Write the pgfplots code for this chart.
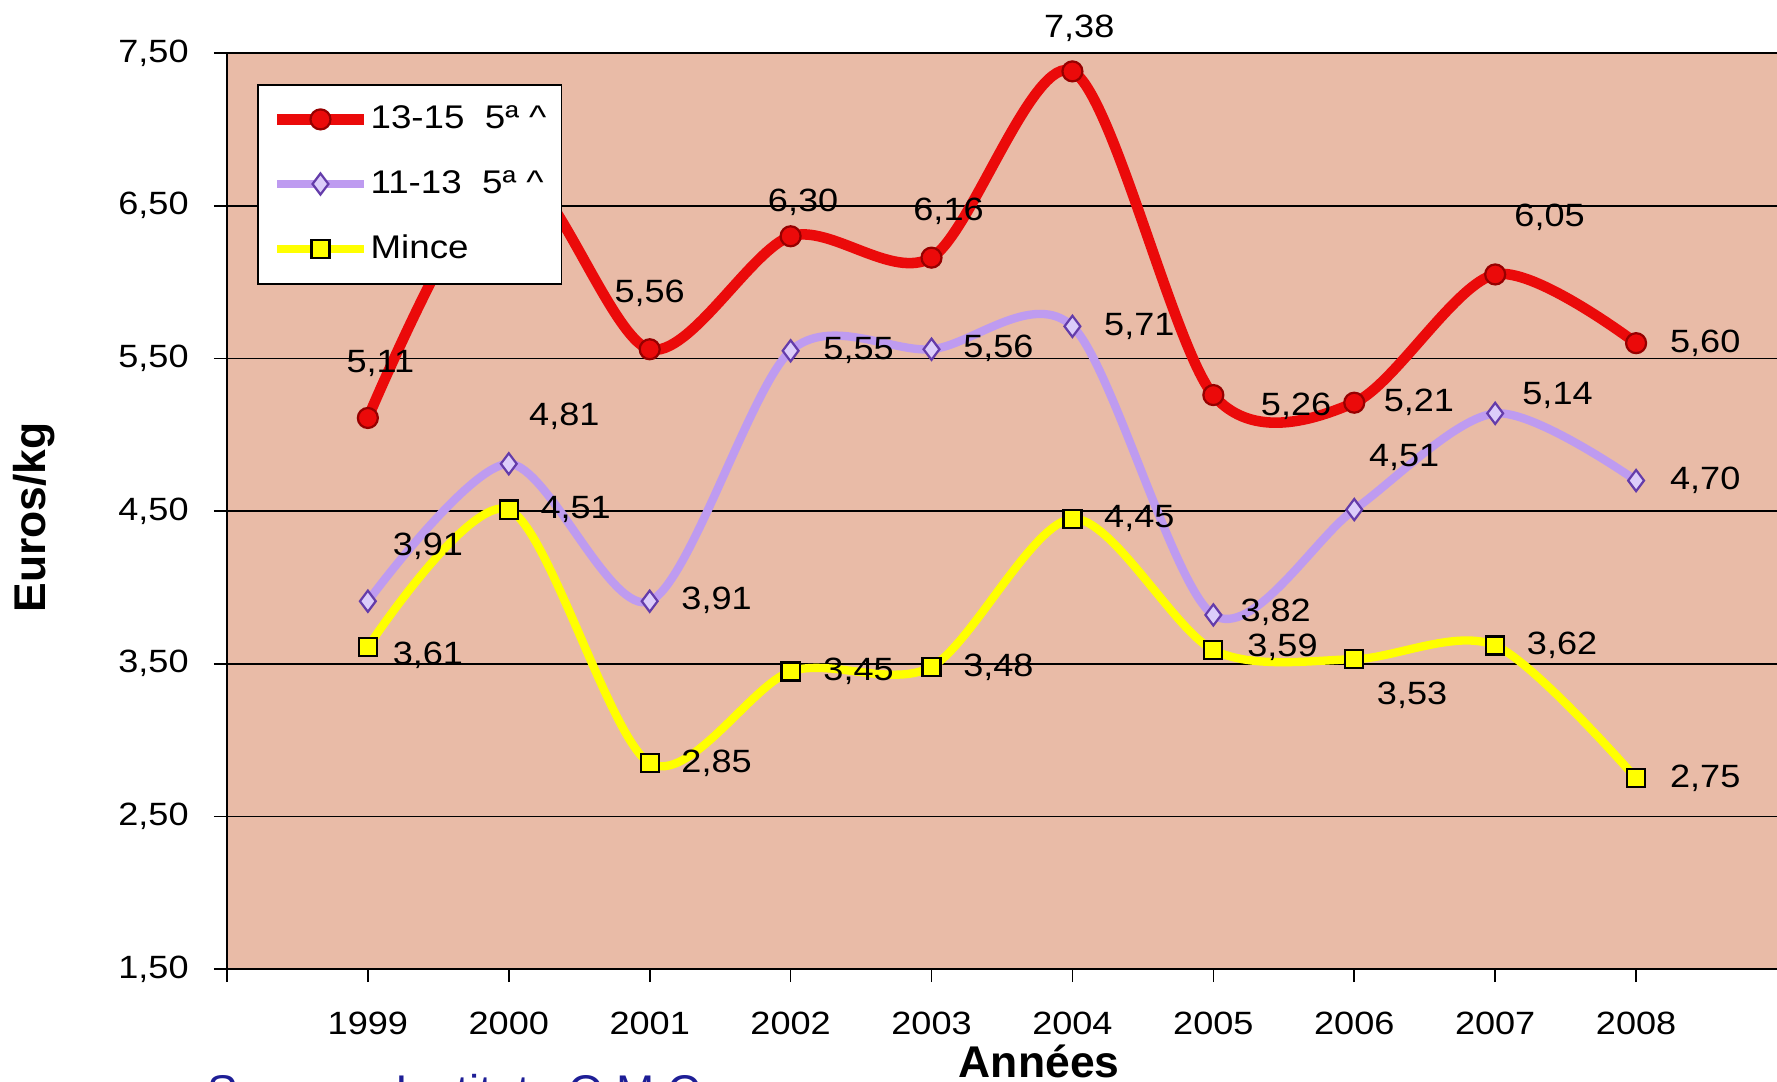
\documentclass[border=0pt]{standalone}
\usepackage{fontspec}
\setmainfont{Liberation Sans}[FakeStretch=1.12]
\newfontfamily\labelfont{Liberation Sans}
\usepackage{pgfplots}
\pgfplotsset{compat=1.18}
\usepackage{pgfplotstable}
\usetikzlibrary{calc}

\definecolor{bgc}{RGB}{233,187,167}
\definecolor{redl}{RGB}{235,10,10}
\definecolor{redd}{RGB}{150,0,0}
\definecolor{purl}{RGB}{190,155,240}
\definecolor{purf}{RGB}{220,205,250}
\definecolor{purd}{RGB}{100,60,170}
\definecolor{yell}{RGB}{255,255,0}
\definecolor{srcblue}{RGB}{30,30,150}

\pgfplotstableread{
x y dx dy lbl
0 5.11 11 48 {5,11}
1 6.75 0 45 {}
2 5.56 0 49 {5,56}
3 6.30 11 30 {6,30}
4 6.16 15 41 {6,16}
5 7.38 6 38 {7,38}
6 5.26 73 -10 {5,26}
7 5.21 57 0 {5,21}
8 6.05 48 50 {6,05}
9 5.60 61 0 {5,60}
}\redtab

\pgfplotstableread{
x y dx dy lbl
0 3.91 53 48 {3,91}
1 4.81 49 42 {4,81}
2 3.91 59 1 {3,91}
3 5.55 60 0 {5,55}
4 5.56 59 1 {5,56}
5 5.71 59 0 {5,71}
6 3.82 55 2 {3,82}
7 4.51 44 46 {4,51}
8 5.14 55 16 {5,14}
9 4.70 61 0 {4,70}
}\purtab

\pgfplotstableread{
x y dx dy lbl
0 3.61 53 -7 {3,61}
1 4.51 59 0 {4,51}
2 2.85 59 0 {2,85}
3 3.45 60 0 {3,45}
4 3.48 59 0 {3,48}
5 4.45 59 0 {4,45}
6 3.59 61 2 {3,59}
7 3.53 51 -32 {3,53}
8 3.62 59 0 {3,62}
9 2.75 61 0 {2,75}
}\yeltab

\pgfplotsset{
  /pgf/number format/.cd, use comma, fixed, fixed zerofill, precision=2, assume math mode=true,
  /pgfplots/.cd,
  datalabels/.style={
    point meta=explicit symbolic,
    nodes near coords,
    visualization depends on={\thisrow{dx} \as \dx},
    visualization depends on={\thisrow{dy} \as \dy},
    every node near coord/.append style={anchor=center, inner sep=0pt,
      xshift=\dx*0.408pt, yshift=\dy*0.408pt, text=black,
      font=\fontsize{11.6}{13}\selectfont},
  },
}

\begin{document}
\begin{tikzpicture}
\begin{axis}[
  scale only axis, width=558pt, height=329.8pt,
  xmin=-1, xmax=10, ymin=1.5, ymax=7.5,
  ytick={1.5,2.5,...,7.5},
  xtick={-1,0,1,2,3,4,5,6,7,8,9},
  xticklabels={,1999,2000,2001,2002,2003,2004,2005,2006,2007,2008},
  axis x line*=bottom, axis y line*=left,
  ymajorgrids, grid style={black, line width=0.6pt},
  axis background/.style={fill=bgc},
  tick align=outside, major tick length=4.7pt,
  tick style={black, line width=0.6pt},
  axis line style={black, line width=0.8pt},
  clip=false,
  ticklabel style={font=\fontsize{11.6}{13}\selectfont, inner sep=0pt},
  yticklabel style={anchor=east, xshift=-8.9pt},
  xticklabel style={anchor=base, yshift=-18.8pt},
  xlabel={Années},
  xlabel style={at={(axis description cs:0.524,0)}, anchor=base, yshift=-38.9pt, inner sep=0pt,
    font=\labelfont\bfseries\fontsize{16}{19}\selectfont},
  ylabel={Euros/kg},
  ylabel style={at={(axis description cs:-0.1246,0.493)}, anchor=center, inner sep=0pt,
    font=\labelfont\bfseries\fontsize{16}{19}\selectfont},
  legend style={at={(0.0194,0.966)}, anchor=north west, draw=black, fill=white, line width=0.6pt,
    font=\fontsize{11.8}{14}\selectfont, inner xsep=5pt, inner ysep=5.5pt, row sep=9.5pt,
    cells={anchor=west}, nodes={inner xsep=0.5pt}},
  legend image code/.code={\draw[mark repeat=2,mark phase=2,#1] plot coordinates {(0cm,0cm) (0.55cm,0cm) (1.1cm,0cm)};},
]
\addplot[color=redl, line width=3.8pt, smooth, mark=*, mark size=3.6pt,
  mark options={solid, fill=redl, draw=redd, line width=0.8pt}, datalabels]
  table[x=x, y=y, meta=lbl] {\redtab};
\addlegendentry{13-15\ \ 5ª \textasciicircum}
\addplot[color=purl, line width=3pt, smooth, mark=diamond*, mark size=3.8pt,
  mark options={solid, fill=purf, draw=purd, line width=0.8pt}, datalabels]
  table[x=x, y=y, meta=lbl] {\purtab};
\addlegendentry{11-13\ \ 5ª \textasciicircum}
\addplot[color=yell, line width=3pt, smooth, mark=square*, mark size=3.25pt,
  mark options={solid, fill=yell, draw=black, line width=0.8pt}, datalabels]
  table[x=x, y=y, meta=lbl] {\yeltab};
\addlegendentry{Mince}
\coordinate (bl) at (rel axis cs:0,0);
\coordinate (tr) at (rel axis cs:1,1);
\node[anchor=base west, text=srcblue, inner sep=0pt, font=\labelfont\fontsize{16.5}{19}\selectfont]
  at ([xshift=-7.2pt, yshift=-49.7pt]rel axis cs:0,0) {Source : Institute O.M.C.};
\end{axis}
\pgfresetboundingbox
\path ($(bl)+(-81.7pt,-40.3pt)$) rectangle ($(tr)+(0pt,19.1pt)$);
\end{tikzpicture}
\end{document}
